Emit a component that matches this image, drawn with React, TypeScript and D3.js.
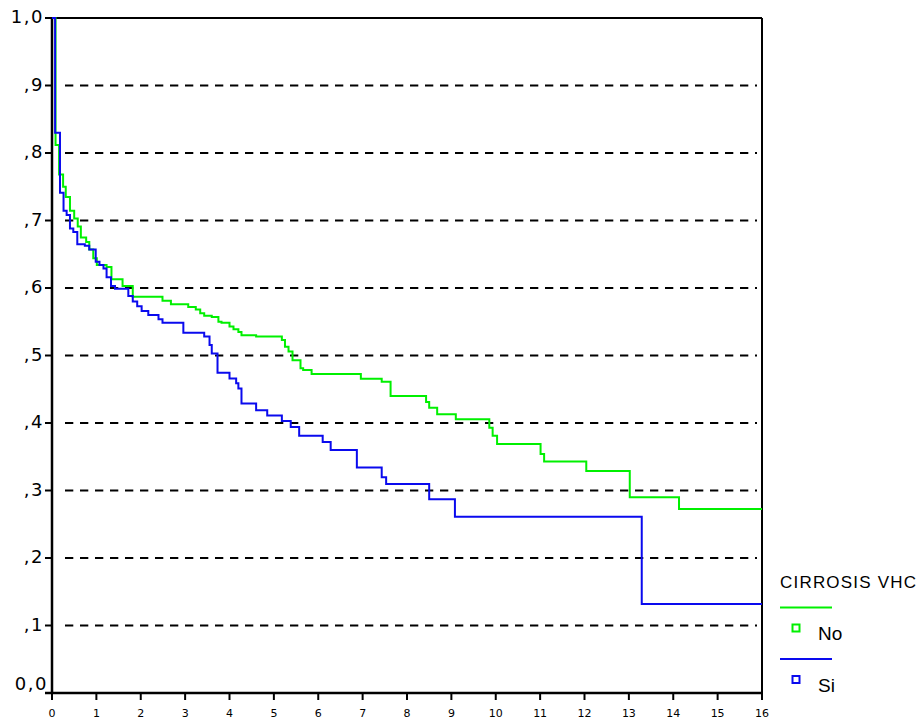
import React from "react";
import * as d3 from "d3";

// Kaplan-Meier step data: time at which survival drops, and new survival value
const noTimes = [0.08, 0.16, 0.25, 0.31, 0.405, 0.5, 0.58, 0.65, 0.77, 0.84, 0.93, 1.01, 1.23, 1.34, 1.59, 1.82, 2.49, 2.68, 3.07, 3.24, 3.34, 3.43, 3.6, 3.75, 3.82, 4.0, 4.09, 4.2, 4.27, 4.6, 5.18, 5.25, 5.33, 5.42, 5.6, 5.66, 5.85, 6.96, 7.43, 7.63, 8.43, 8.5, 8.68, 9.1, 9.855, 9.93, 10.03, 11.01, 11.09, 12.04, 13.02, 14.13];
const noSurv = [0.812, 0.768, 0.75, 0.735, 0.7145, 0.703, 0.691, 0.675, 0.668, 0.657, 0.644, 0.634, 0.631, 0.613, 0.603, 0.587, 0.581, 0.576, 0.572, 0.568, 0.5625, 0.559, 0.557, 0.55, 0.5486, 0.543, 0.539, 0.535, 0.53, 0.528, 0.523, 0.513, 0.506, 0.493, 0.481, 0.4785, 0.4726, 0.4657, 0.461, 0.44, 0.431, 0.4227, 0.413, 0.4054, 0.393, 0.381, 0.369, 0.354, 0.343, 0.329, 0.29, 0.2726];

const siTimes = [0.07, 0.18, 0.26, 0.33, 0.405, 0.48, 0.57, 0.74, 0.84, 0.985, 1.07, 1.16, 1.23, 1.33, 1.42, 1.72, 1.82, 1.92, 2.02, 2.17, 2.4, 2.49, 2.96, 3.43, 3.55, 3.6, 3.73, 4.0, 4.15, 4.2, 4.27, 4.6, 4.85, 5.18, 5.38, 5.57, 6.1, 6.28, 6.87, 7.43, 7.53, 8.5, 9.08, 13.29];
const siSurv = [0.83, 0.741, 0.7145, 0.708, 0.688, 0.683, 0.665, 0.6627, 0.657, 0.639, 0.634, 0.629, 0.616, 0.603, 0.599, 0.588, 0.58, 0.573, 0.566, 0.56, 0.5536, 0.5486, 0.5338, 0.528, 0.5156, 0.503, 0.4746, 0.466, 0.4588, 0.451, 0.429, 0.419, 0.411, 0.403, 0.394, 0.381, 0.372, 0.36, 0.334, 0.3195, 0.3096, 0.287, 0.261, 0.132];

const xTicks = [0, 1, 2, 3, 4, 5, 6, 7, 8, 9, 10, 11, 12, 13, 14, 15, 16];
const yTicks = [0, 0.1, 0.2, 0.3, 0.4, 0.5, 0.6, 0.7, 0.8, 0.9, 1.0];
const yTickLabels = ["0,0", ",1", ",2", ",3", ",4", ",5", ",6", ",7", ",8", ",9", "1,0"];
const seriesNames = ["No", "Si"];
const legendTitle = "CIRROSIS VHC";
const colors = ["#00f000", "#0a0aee"];

const W = 921, H = 722;
const L = 52, R = 762, T = 18, B = 693;

export default function App() {
  const x = d3.scaleLinear().domain([0, 16]).range([L, R]);
  const y = d3.scaleLinear().domain([0, 1]).range([B, T]);
  const line = d3.line<[number, number]>()
    .x(d => x(d[0]))
    .y(d => y(d[1]))
    .curve(d3.curveStepAfter);

  const build = (times: number[], surv: number[]): [number, number][] => {
    const pts: [number, number][] = [[0, 1]];
    times.forEach((t, i) => pts.push([t, surv[i]]));
    pts.push([16, surv[surv.length - 1]]);
    return pts;
  };
  const series = [build(noTimes, noSurv), build(siTimes, siSurv)];

  return (
    <svg width={W} height={H} style={{ position: "absolute", left: 0, top: 0, background: "#fff" }}>
      <rect x={0} y={0} width={W} height={H} fill="#fff" />
      {/* grid lines */}
      {yTicks.filter(v => v > 0 && v < 1).map(v => (
        <line key={"g" + v} x1={65} x2={757} y1={y(v)} y2={y(v)} stroke="#000" strokeWidth={2} strokeDasharray="8.3,6.7" />
      ))}
      {/* frame */}
      <line x1={L} x2={R} y1={T} y2={T} stroke="#000" strokeWidth={2} />
      <line x1={R} x2={R} y1={T} y2={B} stroke="#000" strokeWidth={2} />
      <line x1={L} x2={L} y1={T} y2={B} stroke="#000" strokeWidth={2.5} />
      <line x1={45} x2={R} y1={B} y2={B} stroke="#000" strokeWidth={2.5} />
      {/* y ticks */}
      {yTicks.map((v, i) => (
        <g key={"y" + i}>
          <line x1={45} x2={L} y1={y(v)} y2={y(v)} stroke="#000" strokeWidth={2} />
          <text x={v === 0 ? 48 : 44} y={v === 0 ? y(v) - 8 : y(v)} dominantBaseline="middle" textAnchor="end"
            fontFamily="DejaVu Sans" fontSize={18} letterSpacing={1.5} fill="#000">{yTickLabels[i]}</text>
        </g>
      ))}
      {/* x ticks */}
      {xTicks.map(v => (
        <g key={"x" + v}>
          <line x1={x(v)} x2={x(v)} y1={B} y2={B + 7} stroke="#000" strokeWidth={2} />
          <text x={x(v)} y={717} textAnchor="middle" fontFamily="DejaVu Sans" fontSize={11} fill="#000">{v}</text>
        </g>
      ))}
      {/* curves */}
      {series.map((pts, i) => (
        <path key={"s" + i} d={line(pts) || ""} fill="none" stroke={colors[i]} strokeWidth={2} />
      ))}
      {/* legend */}
      <text x={780} y={588} fontFamily="Liberation Sans" fontSize={17} letterSpacing={1.2} fill="#000">{legendTitle}</text>
      {seriesNames.map((n, i) => (
        <g key={"l" + n}>
          <line x1={780} x2={832} y1={607.5 + i * 51.5} y2={607.5 + i * 51.5} stroke={colors[i]} strokeWidth={2} />
          <rect x={792.5} y={624.5 + i * 51.5} width={7} height={7} fill="none" stroke={colors[i]} strokeWidth={2} />
          <text x={818} y={640 + i * 51.5} fontFamily="Liberation Sans" fontSize={19} fill="#000">{n}</text>
        </g>
      ))}
    </svg>
  );
}
